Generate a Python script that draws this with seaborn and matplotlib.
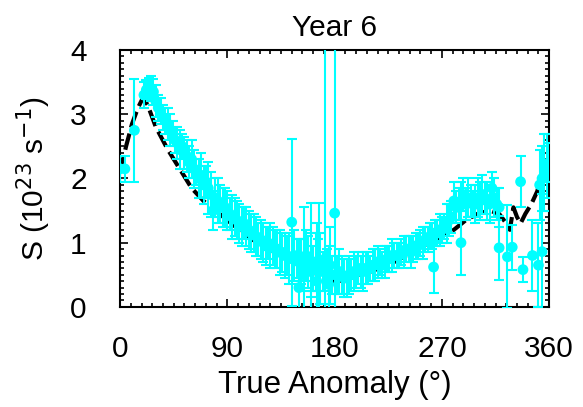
import numpy as np
import pandas as pd
import matplotlib
matplotlib.use('Agg')
import matplotlib.pyplot as plt
from matplotlib.ticker import MultipleLocator
import seaborn as sns

# measured production rate, binned in true anomaly (deg)
anomaly = [0, 4, 12,
           20, 24, 28, 32, 36, 40, 44, 48, 52, 56,
           60, 64, 68, 72, 76, 80, 84, 88, 92, 96,
           100, 104, 108, 112, 116, 120, 124, 128, 132, 136,
           140, 144, 148, 152, 156, 160, 164, 168, 172, 176,
           180, 184, 188, 192, 196, 200, 204, 208, 212, 216,
           220, 224, 228, 232, 236, 240, 244, 248, 252, 256,
           260, 264, 268, 272, 276, 280, 284, 288, 292, 296,
           300, 304, 308, 312, 316, 336, 352, 356, 360]
rate = [2.15, 2.15, 2.75,
        3.3, 3.42, 3.35, 3.1, 2.95, 2.85, 2.7, 2.55, 2.5, 2.35,
        2.3, 2.1, 2.05, 1.95, 1.75, 1.7, 1.6, 1.55, 1.45, 1.4,
        1.3, 1.3, 1.2, 1.15, 1.05, 1.0, 1.0, 0.95, 0.9, 0.85,
        0.8, 1.32, 0.75, 0.7, 0.8, 0.65, 0.7, 0.6, 0.75, 0.65,
        1.46, 0.55, 0.45, 0.5, 0.55, 0.6, 0.55, 0.6, 0.65, 0.7,
        0.65, 0.75, 0.8, 0.8, 0.85, 0.9, 0.85, 0.95, 1.0, 1.05,
        1.1, 1.15, 1.2, 1.25, 1.35, 1.65, 1.6, 1.75, 1.7, 1.6,
        1.7, 1.75, 1.65, 1.85, 1.6, 1.95, 1.9, 2.1, 2.25]
rate_err = [0.2, 0.2, 0.8,
            0.2, 0.15, 0.2, 0.2, 0.2, 0.25, 0.2, 0.25, 0.2, 0.25,
            0.3, 0.2, 0.35, 0.25, 0.35, 0.3, 0.3, 0.3, 0.25, 0.3,
            0.3, 0.25, 0.3, 0.3, 0.25, 0.3, 0.25, 0.3, 0.3, 0.3,
            0.3, 1.3, 0.3, 0.35, 0.4, 0.5, 0.45, 0.55, 3.5, 0.6,
            3.0, 0.35, 0.3, 0.3, 0.3, 0.25, 0.3, 0.25, 0.25, 0.25,
            0.2, 0.2, 0.25, 0.2, 0.2, 0.2, 0.25, 0.2, 0.2, 0.2,
            0.2, 0.2, 0.25, 0.2, 0.25, 0.3, 0.25, 0.25, 0.3, 0.2,
            0.3, 0.3, 0.3, 0.25, 0.25, 0.4, 0.55, 0.6, 0.3]

# interleaved bins
anomaly_b = [22, 26, 30, 34, 38, 42, 46, 50, 54, 58,
             62, 66, 70, 74, 78, 82, 86, 90, 94, 98,
             102, 106, 110, 114, 118, 122, 126, 130, 134, 138,
             142, 146, 150, 154, 158, 162, 166, 170, 174, 178,
             182, 186, 190, 194, 198, 202, 206, 210, 214, 218,
             222, 226, 230, 234, 238, 242, 246, 250, 254, 258,
             262, 266, 270, 274, 278, 282, 286, 290, 294, 298,
             302, 306, 310, 314, 318, 354, 358]
rate_b = [3.38, 3.4, 3.2, 3.05, 2.9, 2.75, 2.6, 2.45, 2.4, 2.25,
          2.15, 2.0, 1.9, 1.85, 1.5, 1.65, 1.55, 1.5, 1.4, 1.35,
          1.25, 1.25, 1.15, 1.1, 1.05, 0.95, 0.95, 0.9, 0.85, 0.8,
          0.75, 0.8, 0.7, 0.65, 0.7, 0.6, 0.65, 0.55, 0.6, 0.5,
          0.5, 0.5, 0.45, 0.5, 0.55, 0.55, 0.6, 0.6, 0.65, 0.7,
          0.7, 0.75, 0.8, 0.8, 0.85, 0.9, 0.9, 0.95, 1.0, 1.05,
          1.1, 1.15, 1.2, 1.3, 1.4, 1.55, 1.65, 1.6, 1.65, 1.6,
          1.65, 1.7, 1.6, 1.7, 1.55, 2.0, 2.2]
rate_b_err = [0.15, 0.2, 0.25, 0.2, 0.2, 0.25, 0.2, 0.3, 0.25, 0.25,
              0.3, 0.3, 0.3, 0.4, 0.3, 0.35, 0.3, 0.3, 0.35, 0.3,
              0.3, 0.3, 0.3, 0.3, 0.3, 0.3, 0.35, 0.3, 0.35, 0.35,
              0.4, 0.4, 0.35, 0.4, 0.4, 0.35, 0.4, 0.3, 0.3, 0.3,
              0.3, 0.3, 0.3, 0.25, 0.25, 0.25, 0.25, 0.2, 0.25, 0.2,
              0.25, 0.2, 0.2, 0.2, 0.25, 0.2, 0.2, 0.2, 0.25, 0.2,
              0.2, 0.2, 0.2, 0.3, 0.25, 0.25, 0.3, 0.25, 0.25, 0.3,
              0.3, 0.25, 0.3, 0.3, 0.3, 0.5, 0.5]

# low outlying bins
extra_anomaly = [150, 154, 160, 165, 167, 175, 263, 286, 318, 325, 329, 338, 346, 351, 354]
extra_rate = [0.3, 0.5, 0.55, 0.4, 0.6, 0.35, 0.62, 1.0, 0.92, 0.78, 0.93, 0.58, 0.8, 0.65, 0.86]
extra_err = [0.35, 1.05, 1.07, 0.9, 1.02, 0.6, 0.4, 0.5, 0.5, 0.8, 0.35, 0.2, 0.55, 0.65, 0.9]

# model curve
model_anomaly = [0, 5, 10, 15, 19, 23, 30, 40, 50, 60, 70, 80, 90, 100, 110, 120,
                 130, 140, 150, 160, 170, 180, 190, 200, 210, 220, 230, 240, 250,
                 260, 270, 280, 290, 300, 310, 318, 324, 327, 330, 333, 336, 340,
                 345, 350, 355, 360]
model_rate = [2.1, 2.5, 2.85, 3.1, 3.25, 3.15, 2.8, 2.45, 2.15, 1.85, 1.65, 1.5,
              1.35, 1.2, 1.06, 0.95, 0.85, 0.75, 0.65, 0.55, 0.48, 0.4, 0.42,
              0.5, 0.55, 0.62, 0.7, 0.8, 0.92, 1.0, 1.1, 1.2, 1.35, 1.45, 1.5,
              1.45, 1.3, 1.2, 1.55, 1.4, 1.3, 1.45, 1.6, 1.8, 2.15, 2.35]

obs = pd.concat([
    pd.DataFrame({'ta': anomaly, 'S': rate, 'err': rate_err}),
    pd.DataFrame({'ta': anomaly_b, 'S': rate_b, 'err': rate_b_err}),
    pd.DataFrame({'ta': extra_anomaly, 'S': extra_rate, 'err': extra_err}),
], ignore_index=True)
model = pd.DataFrame({'ta': model_anomaly, 'S': model_rate})

sns.set_style('ticks')
plt.rcParams['font.family'] = ['Liberation Sans', 'DejaVu Sans']
for key in ['text.color', 'axes.labelcolor', 'xtick.color', 'ytick.color', 'axes.edgecolor']:
    plt.rcParams[key] = 'black'
fs = 21.5

fig = plt.figure(figsize=(5.83, 4.07), dpi=100)
ax = fig.add_axes([0.206, 0.246, 0.736, 0.631])

sns.lineplot(data=model, x='ta', y='S', color='black', linewidth=3,
             linestyle=(0, (4, 1.5)), ax=ax, zorder=2)
ax.errorbar(obs['ta'], obs['S'], yerr=obs['err'], fmt='none', ecolor='#00ffff',
            elinewidth=1.5, capsize=3.5, capthick=1.5, zorder=3)
sns.scatterplot(data=obs, x='ta', y='S', color='#00ffff', s=60, edgecolor='none',
                ax=ax, zorder=4)

ax.set_xlim(0, 360)
ax.set_ylim(0, 4)
ax.set_xticks([0, 90, 180, 270, 360])
ax.set_yticks([0, 1, 2, 3, 4])
ax.xaxis.set_minor_locator(MultipleLocator(9))
ax.yaxis.set_minor_locator(MultipleLocator(0.1))
ax.tick_params(which='both', direction='in', top=True, right=True, width=1.2)
ax.tick_params(which='major', length=6, labelsize=fs)
ax.tick_params(axis='x', which='major', pad=20)
ax.tick_params(axis='y', which='major', pad=24)
ax.tick_params(which='minor', length=3)
for sp in ax.spines.values():
    sp.set_linewidth(1.5)

ax.set_title('Year 6', fontsize=fs, pad=10)
ax.set_xlabel('True Anomaly (°)', fontsize=22.5, labelpad=5)
ax.set_ylabel('S (10$^{23}$ s$^{-1}$)', fontsize=fs, labelpad=12)

fig.savefig('out.png', dpi=100)
